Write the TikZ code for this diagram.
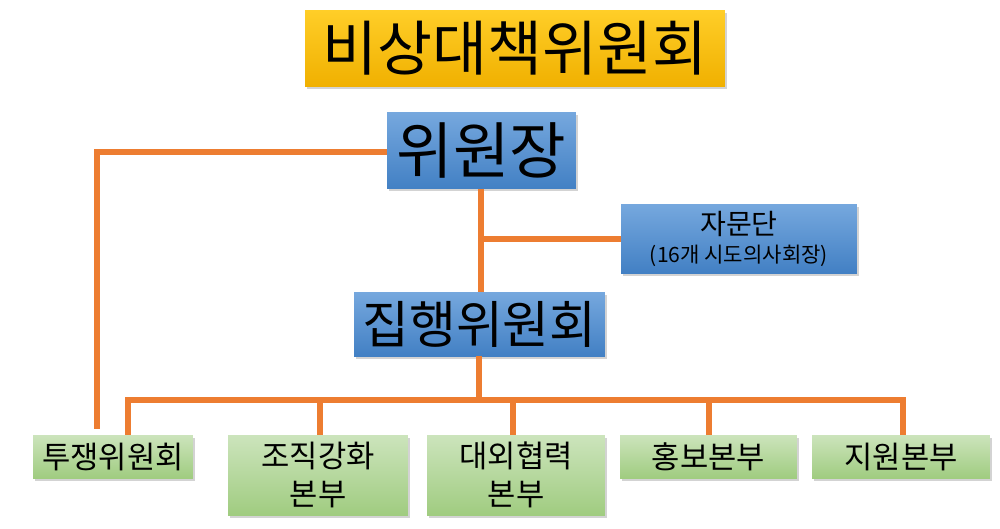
\documentclass[tikz,border=0pt]{standalone}
\usepackage{fontspec}
\setmainfont{Noto Sans CJK KR}
\usetikzlibrary{shadows}
\definecolor{LinkClr}{RGB}{237,125,49}
\definecolor{GoldTop}{RGB}{255,206,40}
\definecolor{GoldBot}{RGB}{240,176,0}
\definecolor{BlueTop}{RGB}{118,168,222}
\definecolor{BlueBot}{RGB}{66,128,196}
\definecolor{GreenTop}{RGB}{204,228,188}
\definecolor{GreenBot}{RGB}{160,204,128}

\begin{document}
\begin{tikzpicture}[x=0.02cm,y=-0.02cm,
  box/.style={inner sep=0pt,align=center,text=black,
    drop shadow={opacity=0.35,shadow xshift=0.04cm,shadow yshift=-0.05cm}},
  titlebox/.style={box,top color=GoldTop,bottom color=GoldBot,
    minimum width=8.4cm,minimum height=1.54cm,font=\fontsize{34}{38}\selectfont},
  bluebox/.style={box,top color=BlueTop,bottom color=BlueBot},
  greenbox/.style={box,top color=GreenTop,bottom color=GreenBot,
    minimum width=3.56cm,font=\fontsize{17.5}{22}\selectfont},
  link/.style={LinkClr,line width=0.12cm}]
\useasboundingbox (0,0) rectangle (1000,528);

% top of the chart
\node[titlebox] (title) at (515,48.5) {비상대책위원회};
\node[bluebox,minimum width=3.78cm,minimum height=1.54cm,
  font=\fontsize{35}{38}\selectfont] (chair) at (481.5,150.5) {위원장};
\node[bluebox,minimum width=4.72cm,minimum height=1.38cm] (advise) at (739,238.5)
  {{\fontsize{16}{18}\selectfont 자문단}\\[4pt]{\fontsize{12}{14}\selectfont (16개 시도의사회장)}};
\node[bluebox,minimum width=5.02cm,minimum height=1.28cm,
  font=\fontsize{29}{32}\selectfont] (exec) at (479.5,324) {집행위원회};

% bottom row
\node[greenbox,minimum width=3.2cm,minimum height=0.86cm] (fight) at (113,456.5) {투쟁위원회};
\node[greenbox,minimum width=3.6cm,minimum height=1.6cm] (org) at (318,475) {조직강화\\본부};
\node[greenbox,minimum height=1.6cm] (coop) at (516,475) {대외협력\\본부};
\node[greenbox,minimum width=3.54cm,minimum height=0.86cm] (pr) at (708.5,456.5) {홍보본부};
\node[greenbox,minimum height=0.86cm] (aid) at (901,456.5) {지원본부};

% connectors
\coordinate (spine) at (481,189);
\coordinate (bus) at (479,400);
\coordinate (corner) at (97,152);
\coordinate (fightend) at (97,429);

\draw[link] (spine) -- (spine |- exec.north);
\draw[link] (spine |- advise.west) -- (advise.west);
\draw[link] (chair.west |- corner) -- (corner) -- (fightend);
\draw[link] (exec.south -| bus) -- (bus);
\draw[link] (bus) -| ([xshift=0.3cm]fight.north);
\draw[link] (bus) -| ([xshift=0.04cm]org.north);
\draw[link] (bus) -| ([xshift=-0.06cm]coop.north);
\draw[link] (bus) -| (pr.north);
\draw[link] (bus) -| ([xshift=0.04cm]aid.north);

\end{tikzpicture}
\end{document}
